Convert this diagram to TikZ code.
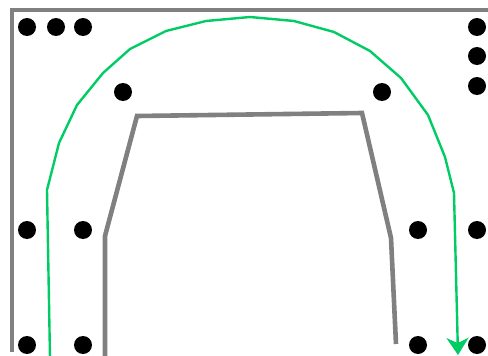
\documentclass[tikz,border=0pt]{standalone}
\usetikzlibrary{arrows.meta}
\begin{document}
\begin{tikzpicture}[x=1pt,y=-1pt,
  wall/.style={draw={rgb,255:red,128;green,128;blue,128},line width=4.6pt},
  route/.style={draw={rgb,255:red,0;green,204;blue,102},line width=2.4pt,-{Stealth[length=17pt,width=22pt,inset=5pt]}},
  dot/.style={fill=black,circle,inner sep=0pt,minimum size=18pt}]
\useasboundingbox (0,0) rectangle (488,356);
\draw[wall] (12,352) -- (12,10) -- (490,10);
\draw[wall] (105,358) -- (105,236) -- (137,116) -- (362,113) -- (391,238) -- (396,344);
\draw[route] (50,358) -- (47,190) -- (59,143) -- (77,105) -- (103,73) -- (130,49) -- (166,31) -- (206,21) -- (250,17) -- (294,21) -- (334,32) -- (370,51) -- (401,78) -- (428,115) -- (445,157) -- (454,193) -- (458,355);
\foreach \n/\x/\y in {a/27/27,b/56/27,c/83/27,d/477/27,e/477/56,f/477/86,g/123/92,h/382/92,i/27/230,j/83/230,k/418/230,l/477/230,m/27/345,n/83/345,o/418/345,p/477/345}
  \node[dot] (\n) at (\x,\y) {};
\end{tikzpicture}
\end{document}
